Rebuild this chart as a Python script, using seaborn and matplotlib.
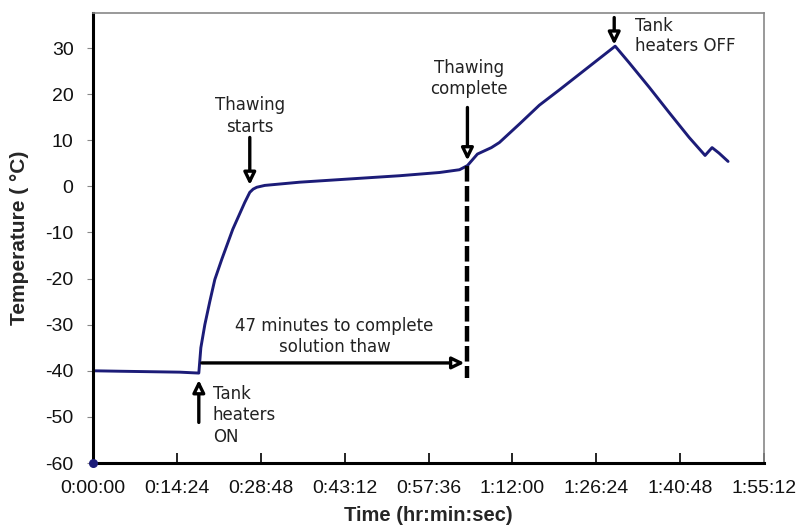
import matplotlib
matplotlib.use("Agg")
import matplotlib.pyplot as plt
from matplotlib.ticker import FuncFormatter
from matplotlib.patches import FancyArrowPatch
import seaborn as sns
import pandas as pd

# ---- data (time in seconds, temperature in °C) ----
time_s = [0, 278, 586, 895, 1090, 1111, 1152, 1203, 1255, 1327, 1440, 1563, 1615,
          1650, 1687, 1769, 1923, 2129, 2643, 3158, 3569, 3775, 3857, 3898, 3960,
          4042, 4104, 4186, 4392, 4598, 4803, 5009, 5215, 5379, 5523, 5729, 5935,
          6141, 6305, 6377, 6449, 6542]
temp_c = [-40.0, -40.1, -40.2, -40.3, -40.5, -35.0, -30.0, -25.0, -20.2, -15.8, -9.3,
          -3.5, -1.3, -0.6, -0.2, 0.2, 0.5, 0.9, 1.6, 2.3, 3.0, 3.6, 4.5, 5.5, 7.0,
          7.8, 8.4, 9.5, 13.5, 17.6, 20.9, 24.3, 27.7, 30.4, 26.8, 21.5, 16.0,
          10.6, 6.7, 8.4, 7.2, 5.4]
start_marker_t = [0]
start_marker_v = [-60]

x_ticks_s = [0, 864, 1728, 2592, 3456, 4320, 5184, 6048, 6912]
y_ticks = [-60, -50, -40, -30, -20, -10, 0, 10, 20, 30]

heaters_on_t = 1090
thaw_start_t = 1615
thaw_done_t = 3857
heaters_off_t = 5369

df = pd.DataFrame({"time": time_s, "temp": temp_c})

sns.set_style("white")
plt.rcParams["font.family"] = ["Liberation Sans", "DejaVu Sans"]
plt.rcParams["axes.unicode_minus"] = False

fig = plt.figure(figsize=(8, 5.25), dpi=100)
ax = fig.add_axes([93 / 800, 1 - 463 / 525, (764 - 93) / 800, (463 - 12.5) / 525])

line_col = "#1c1c78"
sns.lineplot(data=df, x="time", y="temp", ax=ax, color=line_col, linewidth=2.1)
ax.scatter(start_marker_t, start_marker_v, s=30, color=line_col, zorder=5, clip_on=False)

ax.set_xlim(0, 6912)
ax.set_ylim(-60, 37.7)
ax.set_xticks(x_ticks_s)
ax.set_yticks(y_ticks)


def fmt(v, pos):
    v = int(round(v))
    return f"{v // 3600}:{(v % 3600) // 60:02d}:{v % 60:02d}"


ax.xaxis.set_major_formatter(FuncFormatter(fmt))
ax.tick_params(axis="x", direction="in", length=7, width=1.2, labelsize=14, pad=12,
               bottom=True, color="black", labelcolor="#111111")
ax.tick_params(axis="y", direction="out", length=4, width=0.8, labelsize=14, pad=10,
               left=True, color="#888888", labelcolor="#111111")

for s in ["left", "bottom"]:
    ax.spines[s].set_color("black")
    ax.spines[s].set_linewidth(2.2)
for s in ["top", "right"]:
    ax.spines[s].set_color("#888888")
    ax.spines[s].set_linewidth(1.2)

ax.set_xlabel("Time (hr:min:sec)", fontsize=14.5, fontweight="bold")
ax.set_ylabel("Temperature ( °C)", fontsize=15, fontweight="bold")
ax.xaxis.set_label_coords(0.5, -0.095)
ax.yaxis.set_label_coords(-0.095, 0.5)

ann_font = dict(family="DejaVu Sans", fontsize=12, color="#222222")


def arrow(x0, y0, x1, y1):
    a = FancyArrowPatch((x0, y0), (x1, y1), arrowstyle="-|>,head_length=4.5,head_width=2.2",
                        mutation_scale=1.6, lw=2.4, ec="black", fc="white", zorder=6,
                        shrinkA=0, shrinkB=0)
    ax.add_patch(a)


# Thawing starts
ax.text(thaw_start_t, 15.2, "Thawing\nstarts", ha="center", va="center", linespacing=1.25, **ann_font)
arrow(thaw_start_t, 10.6, thaw_start_t, 0.3)

# Thawing complete
ax.text(thaw_done_t + 20, 23.4, "Thawing\ncomplete", ha="center", va="center", linespacing=1.25, **ann_font)
arrow(thaw_done_t, 17.1, thaw_done_t, 5.6)

# Tank heaters OFF
ax.text(5585, 32.6, "Tank\nheaters OFF", ha="left", va="center", linespacing=1.2, **ann_font)
arrow(heaters_off_t, 36.6, heaters_off_t, 30.7)

# Tank heaters ON
ax.text(1234, -49.6, "Tank\nheaters\nON", ha="left", va="center", linespacing=1.25, **ann_font)
arrow(heaters_on_t, -51.2, heaters_on_t, -42.0)

# 47 minutes
ax.text(2489, -32.6, "47 minutes to complete\nsolution thaw", ha="center", va="center",
        linespacing=1.2, **ann_font)
arrow(1121, -38.3, 3826, -38.3)

# dashed vertical line
ax.plot([thaw_done_t, thaw_done_t], [4.5, -41.5], color="black", lw=3.2,
        dashes=(3.5, 1.0), zorder=4)

fig.savefig("out.png", dpi=100)
